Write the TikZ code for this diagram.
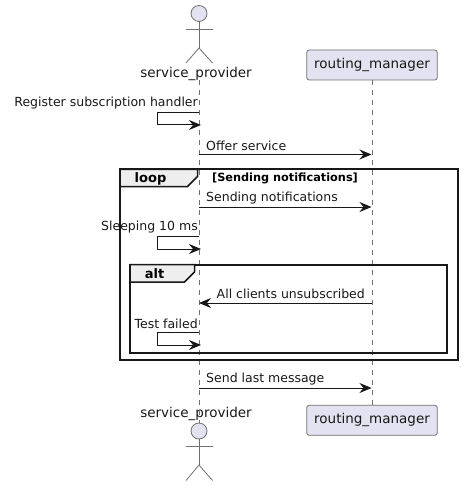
\documentclass[tikz,border=0pt]{standalone}
\usepackage{fontspec}
\setmainfont{DejaVu Sans}
\usetikzlibrary{arrows.meta}
\definecolor{partfill}{HTML}{E2E2F0}
\definecolor{tabfill}{HTML}{EEEEEE}
\definecolor{ink}{HTML}{181818}
\definecolor{soft}{HTML}{707070}
\tikzset{
  msg/.style={draw=ink,line width=1pt,-{Stealth[length=12pt,width=10pt,inset=4pt]}},
  selfline/.style={draw=ink,line width=1pt},
  msgtext/.style={inner sep=0pt,text=ink,font=\fontsize{12.5}{15}\selectfont},
  parttext/.style={inner sep=0pt,text=ink,font=\fontsize{13.5}{16}\selectfont},
  partbox/.style={draw=soft,line width=0.8pt,fill=partfill,rounded corners=2.5pt,minimum width=130.5pt,minimum height=30pt,inner sep=0pt,text=ink,font=\fontsize{13.5}{16}\selectfont},
  lifeline/.style={draw=soft,line width=0.8pt,dash pattern=on 5pt off 5pt},
  actorline/.style={draw=soft,line width=0.8pt},
  framebox/.style={draw=ink,line width=2pt},
  tabbox/.style={draw=ink,line width=1.5pt,fill=tabfill},
  tabtext/.style={inner sep=0pt,text=black,font=\bfseries\fontsize{13}{15}\selectfont},
  guardtext/.style={inner sep=0pt,text=black,font=\bfseries\fontsize{11.3}{13}\selectfont}
}
\begin{document}
\begin{tikzpicture}[x=1pt,y=-1pt]
\useasboundingbox (0,0) rectangle (462,486);

% participants
\node[partbox] (rmtop) at (372,65) {routing\_manager};
\node[partbox] (rmbot) at (372,420.3) {routing\_manager};
\node[parttext] (sptop) at (196,74) {service\_provider};
\node[parttext] (spbot) at (196,414) {service\_provider};
\coordinate (splinetop) at (199,80);
\coordinate (splinebot) at (199,423);

% lifelines
\draw[lifeline] (splinetop) -- (splinebot);
\draw[lifeline] (rmtop) -- (rmbot);

% top actor
\draw[actorline,fill=partfill] (199,13.5) circle (8);
\draw[actorline] (199,21.5) -- (199,48);
\draw[actorline] (186,29) -- (212.500,29);
\draw[actorline] (186,63) -- (199,48) -- (212.500,63);

% bottom actor
\draw[actorline,fill=partfill] (199,431) circle (8);
\draw[actorline] (199,439) -- (199,465);
\draw[actorline] (186,446) -- (212.500,446);
\draw[actorline] (186,480.500) -- (199,465) -- (212.500,480.500);

% frames
\draw[framebox] (120,169.500) rectangle (457.500,360);
\draw[tabbox] (120,169.500) -- (197.500,169.500) -- (197.500,176.500) -- (187.500,186.500) -- (120,186.500) -- cycle;
\node[tabtext] (looptxt) at (150.500,178.500) {loop};
\node[guardtext] (looptitle) at (285,178.500) {[Sending notifications]};

\draw[framebox] (130,264.500) rectangle (447,353);
\draw[tabbox] (130,264.500) -- (194.500,264.500) -- (194.500,272) -- (184.500,282) -- (130,282) -- cycle;
\node[tabtext] (alttxt) at (154.500,273.500) {alt};

% messages
\coordinate (regfrom) at (199,112.500);
\coordinate (regleft) at (157,125);
\coordinate (regto) at (201,125);
\draw[selfline] (regfrom) -| (regleft);
\draw[msg] (regleft) -- (regto);
\node[msgtext,anchor=east] (regtxt) at (198,103.500) {Register subscription handler};

\coordinate (offerfrom) at (199,154.500);
\coordinate (offerto) at (371.500,154.500);
\draw[msg] (offerfrom) -- (offerto);
\node[msgtext,anchor=west] (offertxt) at (206,145.500) {Offer service};

\coordinate (sendfrom) at (199,207);
\coordinate (sendto) at (371.500,207);
\draw[msg] (sendfrom) -- (sendto);
\node[msgtext,anchor=west] (sendtxt) at (206,198.500) {Sending notifications};

\coordinate (sleepfrom) at (199,236.500);
\coordinate (sleepleft) at (157,249);
\coordinate (sleepto) at (201,249);
\draw[selfline] (sleepfrom) -| (sleepleft);
\draw[msg] (sleepleft) -- (sleepto);
\node[msgtext,anchor=east] (sleeptxt) at (198,227.500) {Sleeping 10 ms};

\coordinate (unsubfrom) at (371.500,303);
\coordinate (unsubto) at (199,303);
\draw[msg] (unsubfrom) -- (unsubto);
\node[msgtext,anchor=east] (unsubtxt) at (365,294) {All clients unsubscribed};

\coordinate (failfrom) at (199,332.500);
\coordinate (failleft) at (157,345);
\coordinate (failto) at (201,345);
\draw[selfline] (failfrom) -| (failleft);
\draw[msg] (failleft) -- (failto);
\node[msgtext,anchor=east] (failtxt) at (198,323.500) {Test failed};

\coordinate (lastfrom) at (199,388);
\coordinate (lastto) at (371.500,388);
\draw[msg] (lastfrom) -- (lastto);
\node[msgtext,anchor=west] (lasttxt) at (206,379) {Send last message};

\end{tikzpicture}
\end{document}
